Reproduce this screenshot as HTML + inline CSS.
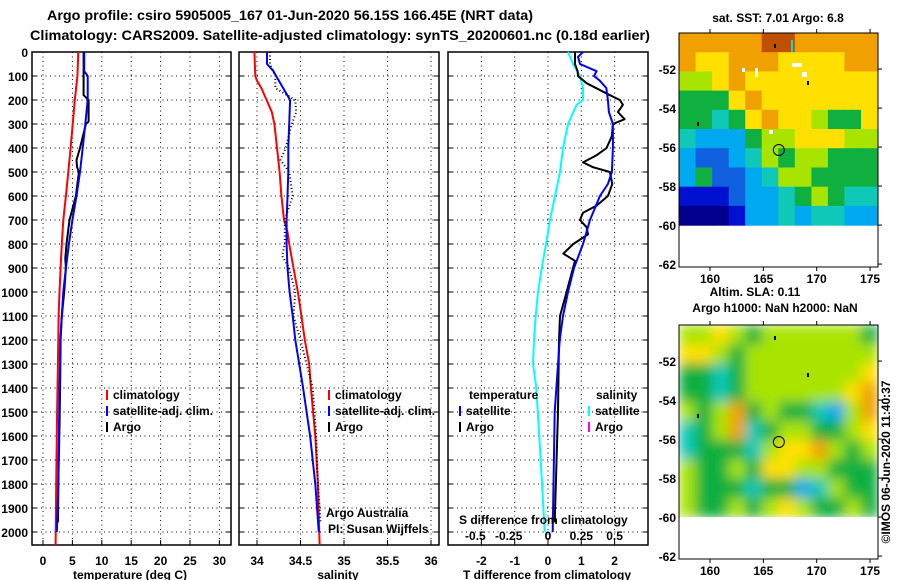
<!DOCTYPE html>
<html><head><meta charset="utf-8"><style>
html,body{margin:0;padding:0;background:#fff;}
svg{display:block;font-family:"Liberation Sans",sans-serif;}
.b{font-weight:bold;font-size:12px;fill:#000;}
.t{font-weight:bold;font-size:14px;fill:#000;}
</style></head><body>
<svg id="chart" width="900" height="580" viewBox="0 0 900 580">
<defs>
<filter id="blur" x="0" y="0" width="1" height="1"><feGaussianBlur stdDeviation="6" edgeMode="duplicate"/></filter>
<clipPath id="clip2"><rect x="679" y="325" width="199" height="192"/></clipPath>
</defs>
<text class="t" x="290" y="20" text-anchor="middle" textLength="486" lengthAdjust="spacingAndGlyphs">Argo profile: csiro 5905005_167 01-Jun-2020 56.15S 166.45E (NRT data)</text>
<text class="t" x="340" y="40" text-anchor="middle" textLength="620" lengthAdjust="spacingAndGlyphs">Climatology: CARS2009. Satellite-adjusted climatology: synTS_20200601.nc (0.18d earlier)</text>
<g id="g"></g>
</svg>
<script>
// ---------- data ----------
const depthTicks = [0,100,200,300,400,500,600,700,800,900,1000,1100,1200,1300,1400,1500,1600,1700,1800,1900,2000];
const tempTicks = [0,5,10,15,20,25,30];
const salTicks = [34,34.5,35,35.5,36];
const salTickLabels = ["34","34.5","35","35.5","36"];
const tdiffTicks = [-2,-1,0,1,2];
const sdiffTickLabels = ["-0.5","-0.25","0","0.25","0.5"];

const climTDepth = [0,100,200,300,400,500,600,700,800,900,1000,1100,1200,1500,1800,2054];
const climT = [6.0,5.85,5.4,5.05,4.7,4.3,3.9,3.45,3.2,3.0,2.8,2.65,2.6,2.4,2.25,2.15];
const satTDepth = [0,80,100,200,300,400,500,600,700,800,900,1000,1100,1200,1400,1500,1800,2000];
const satT = [7.0,7.0,7.6,7.6,7.2,6.75,6.3,5.7,5.0,4.4,3.9,3.45,3.2,2.95,2.8,2.75,2.6,2.35];
const argoTDepth = [0,80,180,200,290,300,400,450,480,500,600,700,800,860,900,1000,1100,1200,1400,1560,1800,1960];
const argoT = [6.9,6.9,6.9,7.75,7.75,7.3,6.3,5.7,5.8,6.1,5.6,4.5,4.0,3.8,3.9,3.6,3.2,3.0,2.9,2.8,2.6,2.55];

const climSDepth = [0,100,120,150,200,250,300,400,500,600,700,750,800,900,1000,1100,1200,1300,1400,1600,1800,2054];
const climS = [33.97,33.98,34.0,34.05,34.11,34.17,34.2,34.23,34.26,34.28,34.31,34.35,34.37,34.42,34.47,34.51,34.55,34.6,34.62,34.67,34.7,34.72];
const satSDepth = [0,50,80,100,150,200,300,400,500,600,700,800,900,1000,1100,1200,1400,1600,1800,2000];
const satS = [34.115,34.115,34.19,34.22,34.3,34.38,34.37,34.36,34.36,34.35,34.34,34.34,34.35,34.375,34.41,34.44,34.53,34.61,34.67,34.71];
const argoSDepth = [0,50,100,150,200,250,300,400,450,500,600,700,800,850,900,1000,1100,1200,1400,1600,1800,1900,1960];
const argoS = [34.15,34.15,34.21,34.21,34.44,34.45,34.4,34.33,34.27,34.37,34.41,34.32,34.32,34.29,34.37,34.44,34.42,34.5,34.64,34.68,34.7,34.72,34.73];

const argoDTDepth = [0,50,80,100,130,180,200,220,250,280,300,350,400,430,460,480,500,550,600,640,670,700,730,760,800,840,870,900,1000,1100,1200,1500,1960];
const argoDT = [0.81,0.81,0.89,0.9,1.16,1.86,2.16,2.25,2.1,2.3,1.95,1.92,1.76,1.46,1.05,1.35,1.86,1.93,1.8,1.46,1.05,0.96,1.16,1.2,0.76,0.46,0.81,0.75,0.56,0.36,0.33,0.3,0.2];
const satDTDepth = [0,20,50,80,100,120,150,200,250,300,400,500,550,600,700,800,900,1000,1100,1200,1500,2000];
const satDT = [1.05,0.9,0.96,1.46,1.38,1.56,1.75,1.8,1.83,1.95,1.95,1.92,1.8,1.56,1.26,1.05,0.78,0.6,0.45,0.35,0.2,0.14];
const satDSDepth = [0,50,100,150,200,220,300,400,500,600,700,800,900,1000,1100,1200,1300,1400,1700,2000];
const satDS = [0.6,0.75,0.96,1.05,1.05,0.86,0.6,0.45,0.36,0.21,0.06,-0.06,-0.19,-0.3,-0.37,-0.42,-0.45,-0.35,-0.22,-0.1];

const lonTicks = [160,165,170,175];
const latTicks = [-52,-54,-56,-58,-60,-62];
const sstGrid = [
[8,8,8,8,8,9,9,8,8,8,8,8],
[8,7,7,8,8,8,7,7,7,7,8,8],
[6,6,7,8,7,7,7,7,7,7,7,7],
[5,5,5,7,8,7,7,7,7,7,7,7],
[5,5,4,5,7,8,7,7,6,5,5,7],
[4,3,3,3,5,6,6,7,7,7,6,6],
[3,2,2,3,4,6,5,6,6,5,5,5],
[3,5,2,2,3,4,6,6,5,5,5,5],
[1,1,1,2,3,3,4,5,6,5,4,4],
[0,0,0,1,3,3,4,3,4,4,3,3]];
const slaGrid = [
[6,6,7,6,5,6,6,6,6,6,6,5],
[7,7,6,5,6,6,6,6,6,6,6,6],
[5,5,4,5,6,6,6,6,6,6,6,7],
[5,5,4,5,6,6,6,6,6,6,7,8],
[6,5,6,8,5,6,5,5,4,3,6,8],
[4,5,6,8,4,5,6,6,5,5,6,7],
[4,5,5,5,4,6,7,7,8,6,5,6],
[6,5,5,6,5,7,7,6,6,5,5,5],
[6,5,5,5,4,5,5,3,4,6,5,5],
[6,5,5,6,5,6,7,6,5,5,6,5]];
const cmap = ["#00008c","#0010d0","#1060e0","#00a8f0","#10c8b8","#10b040","#a8e400","#ffe000","#f0a000","#c05000"];
const argoLon = 166.45, argoLat = -56.15;

// ---------- helpers ----------
const NS="http://www.w3.org/2000/svg";
const G=document.getElementById('g');
function el(tag,attrs,parent){const e=document.createElementNS(NS,tag);for(const k in attrs)e.setAttribute(k,attrs[k]);(parent||G).appendChild(e);return e;}
const yD=d=>52+d*0.24;
const xT=t=>43+t*5.88;
const xS=s=>257+(s-34)*87;
const xDT=v=>548+v*33.3;
const TOP=52,BOT=545;

function frame(x0,x1,name){
  const r=el('rect',{x:x0,y:TOP,width:x1-x0,height:BOT-TOP,fill:'none',stroke:'#000','stroke-width':1.5});
  
  
  depthTicks.forEach(d=>{
    const l=el('line',{x1:x0,x2:x1,y1:yD(d),y2:yD(d),stroke:'#000','stroke-dasharray':'1,3.5'});
    
    
    el('line',{x1:x0,x2:x0+5,y1:yD(d),y2:yD(d),stroke:'#000'});
    el('line',{x1:x1-5,x2:x1,y1:yD(d),y2:yD(d),stroke:'#000'});
  });
}
function vgrid(xs){xs.forEach(x=>{
  const l=el('line',{x1:x,x2:x,y1:TOP,y2:BOT,stroke:'#000','stroke-dasharray':'1,3.5'});
  
  
  el('line',{x1:x,x2:x,y1:BOT-5,y2:BOT,stroke:'#000'});
});}
function text(x,y,s,name,anchor,cls,extra){
  const t=el('text',Object.assign({x:x,y:y,'text-anchor':anchor||'start',class:cls||'b'},extra||{}));
  t.textContent=s;
  
  
  return t;
}
function series(depths,vals,xf,color,name,dash,w){
  const pts=depths.map((d,i)=>xf(vals[i]).toFixed(1)+','+yD(d).toFixed(1)).join(' ');
  const p=el('polyline',{points:pts,fill:'none',stroke:color,'stroke-width':w||2,'stroke-linejoin':'round'});
  if(dash)p.setAttribute('stroke-dasharray',dash);
  
  
}
function legendItem(x,y,color,label,name){
  const m=el('rect',{x:x,y:y-9,width:2,height:10,fill:color});
  
  
  text(x+7,y,label,name);
}

// ---------- panel 1 temperature ----------
frame(32,231,'temperature-panel');
vgrid(tempTicks.map(xT));
depthTicks.forEach(d=>text(28,yD(d)+5,String(d),'depth-tick-label','end'));
tempTicks.forEach(t=>text(xT(t),565,String(t),'temperature-tick-label','middle'));
text(130,579,'temperature (deg C)','temperature-axis-title','middle');
series(argoTDepth,argoT,xT,'#000','argo-temperature-line');
series(climTDepth,climT,xT,'#ff0000','climatology-temperature-line');
series(satTDepth,satT,xT,'#0000ff','satellite-temperature-line');
legendItem(106,399,'#ff0000','climatology','legend-climatology');
legendItem(106,415,'#0000ff','satellite-adj. clim.','legend-satellite');
legendItem(106,431,'#000','Argo','legend-argo');

// ---------- panel 2 salinity ----------
frame(239,439,'salinity-panel');
vgrid(salTicks.map(xS));
salTicks.forEach((s,i)=>text(xS(s),565,salTickLabels[i],'salinity-tick-label','middle'));
text(338,579,'salinity','salinity-axis-title','middle');
series(climSDepth,climS,xS,'#ff0000','climatology-salinity-line');
series(satSDepth,satS,xS,'#0000ff','satellite-salinity-line');
series(argoSDepth,argoS,xS,'#000','argo-salinity-dots','1,2.5',2);
legendItem(328,399,'#ff0000','climatology','legend-climatology');
legendItem(328,415,'#0000ff','satellite-adj. clim.','legend-satellite');
legendItem(328,431,'#000','Argo','legend-argo');
text(326,517,'Argo Australia','credit-argo-australia','start','',{style:'font-size:12px'});
text(328,533,'PI: Susan Wijffels','credit-pi','start','',{style:'font-size:12px'});

// ---------- panel 3 differences ----------
frame(448,648,'difference-panel');
vgrid(tdiffTicks.map(xDT));
tdiffTicks.forEach(v=>text(xDT(v),565,String(v),'tdiff-tick-label','middle'));
text(547,579,'T difference from climatology','tdiff-axis-title','middle');
series(satDSDepth,satDS,xDT,'#00ffff','satellite-salinity-difference-line');
series(argoDTDepth,argoDT,xDT,'#000','argo-temperature-difference-line');
series(satDTDepth,satDT,xDT,'#0000ff','satellite-temperature-difference-line');
text(469,399,'temperature','legend-temperature-heading');
text(596,399,'salinity','legend-salinity-heading');
legendItem(459,415,'#0000ff','satellite','legend-t-satellite');
legendItem(459,431,'#000','Argo','legend-t-argo');
legendItem(588,415,'#00ffff','satellite','legend-s-satellite');
legendItem(588,431,'#ff00ff','Argo','legend-s-argo');
text(459,524,'S difference from climatology','sdiff-axis-title');
tdiffTicks.forEach((v,i)=>text(xDT(v)-(i<2?6:0),540,sdiffTickLabels[i],'sdiff-tick-label','middle'));

// ---------- maps ----------
const xLon=lon=>710+(lon-160)*10.67;
function drawMap(top,grid,name,smooth){
  const yLat=lat=>top+(-50.15-lat)*19.5;
  const grp=el('g',{});
  
  
  const inner=el('g',smooth?{filter:'url(#blur)'}:{},smooth?el('g',{'clip-path':'url(#clip2)'},grp):grp);
  const lon0=157.1,dlon=1.55,dlat=0.985;
  grid.forEach((row,r)=>row.forEach((v,c)=>{
    const x0=xLon(lon0+c*dlon),x1=xLon(lon0+(c+1)*dlon);
    const y0=yLat(-50.15-r*dlat),y1=yLat(-50.15-(r+1)*dlat);
    const cell=el('rect',{x:x0.toFixed(1),y:y0.toFixed(1),width:(x1-x0+0.6).toFixed(1),height:(y1-y0+0.6).toFixed(1),fill:cmap[v]},inner);
    
    
  }));
  if(!smooth){
    [[792,63,10,4],[755,68,3,9],[802,72,5,5],[769,130,4,4],[742,68,3,4]].forEach(a=>el('rect',{x:a[0],y:top-33+a[1],width:a[2],height:a[3],fill:'#fff'},grp));
    el('rect',{x:791,y:top-33+40,width:2,height:12,fill:'#00e0e0'},grp);
  }
  [[774,44],[807,81],[697,122]].forEach(a=>el('rect',{x:a[0],y:top-33+a[1],width:2,height:4,fill:'#000'},grp));
  el('rect',{x:679,y:top,width:199,height:234,fill:'none',stroke:'#000'},grp);
  const circ=el('circle',{cx:xLon(argoLon),cy:yLat(argoLat),r:5.5,fill:'none',stroke:'#000'},grp);
  
  
  lonTicks.forEach(l=>{
    el('line',{x1:xLon(l),x2:xLon(l),y1:top,y2:top-4,stroke:'#000'},grp);
    el('line',{x1:xLon(l),x2:xLon(l),y1:top+234,y2:top+238,stroke:'#000'},grp);
    text(xLon(l),top+250,String(l),'longitude-tick-label','middle');
  });
  latTicks.forEach(l=>{
    el('line',{x1:878,x2:882,y1:yLat(l),y2:yLat(l),stroke:'#000'},grp);
    text(676,yLat(l)+5,String(l),'latitude-tick-label','end');
  });
}
text(778,22,'sat. SST: 7.01 Argo: 6.8','sst-map-title','middle');
drawMap(33,sstGrid,'sst-map',false);
text(755,296,'Altim. SLA: 0.11','sla-map-title','middle');
text(775,312,'Argo h1000: NaN h2000: NaN','sla-map-subtitle','middle');
drawMap(325,slaGrid,'sla-map',true);
text(0,0,'©IMOS 06-Jun-2020 11:40:37','copyright-timestamp','middle','',{style:'font-size:12px',transform:'translate(890,462) rotate(-90)'});
</script>
</body></html>
